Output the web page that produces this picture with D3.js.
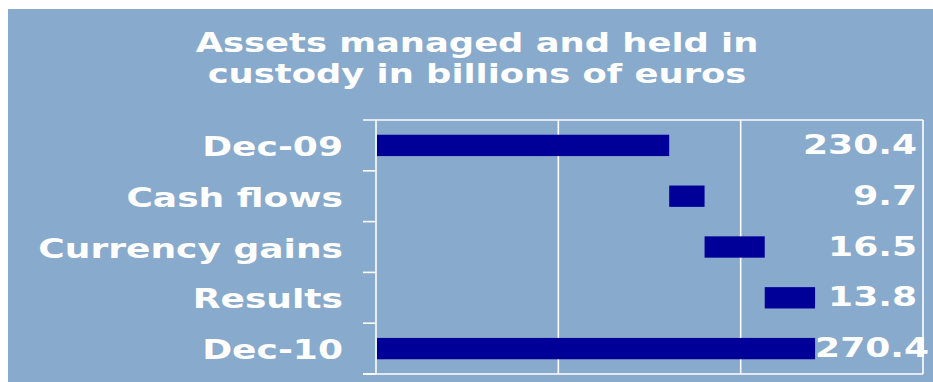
<!DOCTYPE html>
<html>
<head>
<meta charset="utf-8">
<script src="https://cdn.jsdelivr.net/npm/d3@7"></script>
<style>
  html, body { margin: 0; padding: 0; background: #ffffff; }
  svg { display: block; }
  text { font-family: "DejaVu Sans", Verdana, sans-serif; font-weight: bold; fill: #ffffff; }
</style>
</head>
<body>
<svg id="chart" width="933" height="382"></svg>
<script>
// Bridge of assets under management, Dec-09 to Dec-10 (billions of euros)
const categories = ["Dec-09", "Cash flows", "Currency gains", "Results", "Dec-10"];
const values = [230.4, 9.7, 16.5, 13.8, 270.4];
const kinds = ["total", "delta", "delta", "delta", "total"];
const xTicks = [200, 250, 300];
const titleLines = ["Assets managed and held in", "custody in billions of euros"];

const W = 933, H = 382;
const svg = d3.select("#chart");

// panel background
svg.append("rect")
  .attr("x", 8).attr("y", 9)
  .attr("width", W - 8).attr("height", H - 9)
  .attr("fill", "#88aacc");

const plot = { left: 376, right: 923, top: 120, bottom: 374 };
const wide = 1.36;   // horizontal stretch of the lettering

// floating bar extents: totals start at the axis, deltas start where the running sum stands
let running = 0;
const bars = categories.map((c, i) => {
  let start, end;
  if (kinds[i] === "total") { start = null; end = values[i]; running = values[i]; }
  else { start = running; end = running + values[i]; running = end; }
  return { cat: c, value: values[i], start, end };
});

const x = d3.scaleLinear().domain([150, 300]).range([plot.left, plot.right]);
const y = d3.scaleBand().domain(categories).range([plot.top, plot.bottom]).paddingInner(0.58).paddingOuter(0.29);
const band = d3.scaleBand().domain(categories).range([plot.top, plot.bottom]);

const lineColor = "#ffffff";
const g = svg.append("g");

// vertical grid lines
g.selectAll("line.grid").data(xTicks).join("line")
  .attr("class", "grid")
  .attr("x1", d => x(d)).attr("x2", d => x(d))
  .attr("y1", plot.top).attr("y2", plot.bottom)
  .attr("stroke", lineColor).attr("stroke-width", 1.6);

// top and bottom border, extended as ticks
[plot.top, plot.bottom].forEach(v => {
  g.append("line")
    .attr("x1", plot.left - 13).attr("x2", plot.right)
    .attr("y1", v).attr("y2", v)
    .attr("stroke", lineColor).attr("stroke-width", 1.6);
});

// category axis with ticks at band boundaries
const yAxis = d3.axisLeft(band).tickSize(13).tickFormat("");
const axisG = g.append("g").attr("transform", `translate(${plot.left},0)`).call(yAxis);
axisG.select(".domain").remove();
axisG.selectAll(".tick").attr("transform", d => `translate(0,${band(d) + band.bandwidth()})`);
axisG.selectAll(".tick line").attr("stroke", lineColor).attr("stroke-width", 1.6);
g.append("line")
  .attr("x1", plot.left).attr("x2", plot.left)
  .attr("y1", plot.top).attr("y2", plot.bottom)
  .attr("stroke", lineColor).attr("stroke-width", 1.6);

// bars
g.selectAll("rect.bar").data(bars).join("rect")
  .attr("class", "bar")
  .attr("x", d => d.start === null ? x.range()[0] + 1 : x(d.start))
  .attr("width", d => x(d.end) - (d.start === null ? x.range()[0] + 1 : x(d.start)))
  .attr("y", d => y(d.cat))
  .attr("height", y.bandwidth())
  .attr("fill", "#000099");

// category labels
const labelSize = 26.5;
g.selectAll("text.cat").data(categories).join("text")
  .attr("class", "cat")
  .attr("text-anchor", "end")
  .attr("font-size", labelSize)
  .attr("transform", d => `translate(343,${band(d) + band.bandwidth() / 2 + 10.6}) scale(${wide},1)`)
  .text(d => d);

// value labels, right-aligned; pushed past the bar end if they would overlap it
const fmt = d3.format(".1f");
const valueRight = 917;
const vLabels = g.selectAll("text.val").data(bars).join("text")
  .attr("class", "val")
  .attr("font-size", labelSize)
  .text(d => fmt(d.value));
vLabels.each(function (d) {
  const w = this.getComputedTextLength() * wide;
  let left = valueRight - w;
  if (left < x(d.end)) left = x(d.end);
  d3.select(this).attr("transform",
    `translate(${left},${band(d.cat) + band.bandwidth() / 2 + 8.5}) scale(${wide},1)`);
});

// title
svg.selectAll("text.title").data(titleLines).join("text")
  .attr("class", "title")
  .attr("text-anchor", "middle")
  .attr("font-size", 27.4)
  .attr("transform", (d, i) => `translate(477,${52 + i * 31}) scale(1.29,1)`)
  .text(d => d);
</script>
</body>
</html>
